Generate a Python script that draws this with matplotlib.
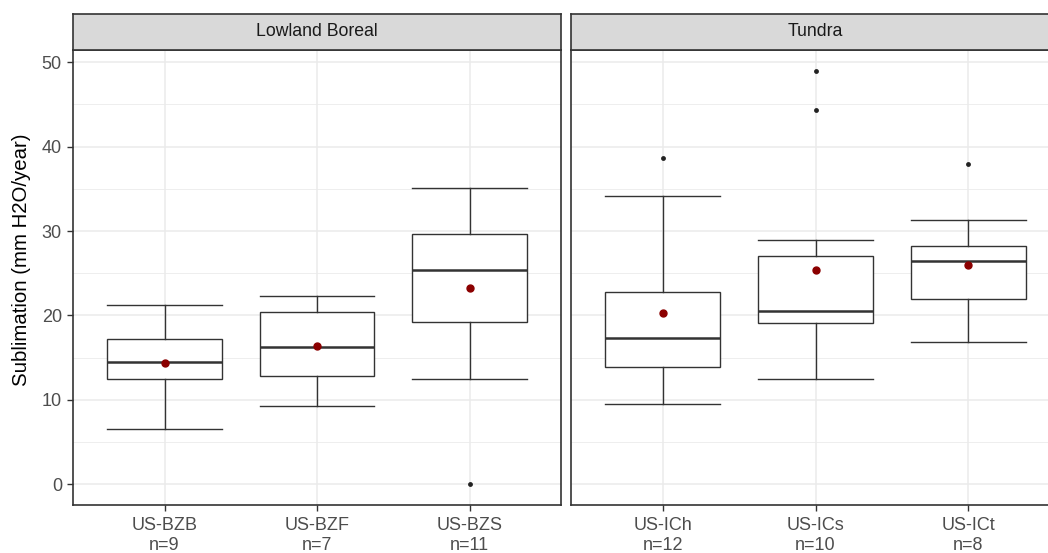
import numpy as np
import matplotlib.pyplot as plt

plt.rcParams['font.family'] = ['Liberation Sans', 'DejaVu Sans']

# site labels and counts per panel
boreal_sites = ['US-BZB', 'US-BZF', 'US-BZS']
boreal_n = [9, 7, 11]
tundra_sites = ['US-ICh', 'US-ICs', 'US-ICt']
tundra_n = [12, 10, 8]

# box stats (mm H2O/year)
boreal_whislo = [6.5, 9.3, 12.5]
boreal_q1 = [12.5, 12.85, 19.2]
boreal_med = [14.5, 16.3, 25.4]
boreal_q3 = [17.2, 20.4, 29.7]
boreal_whishi = [21.2, 22.3, 35.1]
boreal_mean = [14.4, 16.4, 23.2]
boreal_fliers = [[], [], [0.0]]

tundra_whislo = [9.5, 12.5, 16.9]
tundra_q1 = [13.85, 19.1, 21.9]
tundra_med = [17.3, 20.5, 26.4]
tundra_q3 = [22.8, 27.1, 28.2]
tundra_whishi = [34.2, 28.9, 31.3]
tundra_mean = [20.3, 25.4, 26.0]
tundra_fliers = [[38.6], [49.0, 44.3], [38.0]]

LINE = '#333333'
GRID = '#EBEBEB'
TICK_FS = 13


def make_stats(lo, q1, med, q3, hi, mean, fliers):
    stats = []
    for i in range(len(med)):
        stats.append(dict(whislo=lo[i], q1=q1[i], med=med[i], q3=q3[i],
                          whishi=hi[i], mean=mean[i], fliers=fliers[i]))
    return stats


def draw_panel(ax, sites, counts, stats, show_y):
    pos = np.arange(1, len(sites) + 1)
    ax.bxp(stats, positions=pos, widths=0.75, capwidths=0.75,
           showmeans=True, patch_artist=True,
           boxprops=dict(facecolor='white', edgecolor=LINE, linewidth=1.0),
           medianprops=dict(color=LINE, linewidth=1.8),
           whiskerprops=dict(color=LINE, linewidth=1.0),
           capprops=dict(color=LINE, linewidth=1.0),
           meanprops=dict(marker='o', markerfacecolor='#8B0000',
                          markeredgecolor='#8B0000', markersize=5),
           flierprops=dict(marker='o', markerfacecolor='#222222',
                           markeredgecolor='none', markersize=3.5),
           zorder=3)
    ax.set_xlim(0.4, len(sites) + 0.6)
    ax.set_ylim(-2.45, 51.45)
    ax.set_xticks(pos)
    ax.set_xticklabels([s + '\nn=' + str(n) for s, n in zip(sites, counts)],
                       fontsize=TICK_FS, color='#4D4D4D', linespacing=1.2)
    ax.set_yticks(np.arange(0, 51, 10))
    ax.set_yticks(np.arange(5, 50, 10), minor=True)
    ax.yaxis.grid(True, which='major', color=GRID, linewidth=1.1, zorder=0)
    ax.yaxis.grid(True, which='minor', color=GRID, linewidth=0.6, zorder=0)
    ax.xaxis.grid(True, which='major', color=GRID, linewidth=1.1, zorder=0)
    ax.set_axisbelow(True)
    ax.tick_params(axis='both', which='major', length=4, color=LINE,
                   width=1.0)
    ax.tick_params(axis='x', pad=5)
    ax.tick_params(axis='y', pad=4)
    ax.tick_params(axis='y', which='minor', length=0)
    ax.tick_params(axis='y', labelsize=TICK_FS, labelcolor='#4D4D4D')
    if not show_y:
        ax.tick_params(axis='y', which='both', length=0, labelleft=False)
    for sp in ax.spines.values():
        sp.set_color(LINE)
        sp.set_linewidth(1.2)


fig = plt.figure(figsize=(10.48, 5.53), dpi=100)
W, H = 1048.0, 553.0
panel_top, panel_bot = 50.0, 505.0
strip_top = 13.5

ax1 = fig.add_axes([73 / W, 1 - panel_bot / H, 488 / W, (panel_bot - panel_top) / H])
ax2 = fig.add_axes([571 / W, 1 - panel_bot / H, 489 / W, (panel_bot - panel_top) / H])

draw_panel(ax1, boreal_sites, boreal_n,
           make_stats(boreal_whislo, boreal_q1, boreal_med, boreal_q3,
                      boreal_whishi, boreal_mean, boreal_fliers), True)
draw_panel(ax2, tundra_sites, tundra_n,
           make_stats(tundra_whislo, tundra_q1, tundra_med, tundra_q3,
                      tundra_whishi, tundra_mean, tundra_fliers), False)

# y title is centred over panel + strip, like the facet layout
ax1.set_ylabel('Sublimation (mm H2O/year)', fontsize=14.7, color='black')
ax1.yaxis.set_label_coords(-0.086, (panel_bot - (strip_top + panel_bot) / 2) / (panel_bot - panel_top))

# facet strips
for ax, title in [(ax1, 'Lowland Boreal'), (ax2, 'Tundra')]:
    b = ax.get_position()
    sx = fig.add_axes([b.x0, 1 - panel_top / H, b.width, (panel_top - strip_top) / H])
    sx.set_facecolor('#D9D9D9')
    sx.set_xticks([])
    sx.set_yticks([])
    for sp in sx.spines.values():
        sp.set_color(LINE)
        sp.set_linewidth(1.2)
    sx.text(0.5, 0.5, title, ha='center', va='center', fontsize=12.7,
            color='#1A1A1A', transform=sx.transAxes)

fig.savefig('out.png', dpi=100)
